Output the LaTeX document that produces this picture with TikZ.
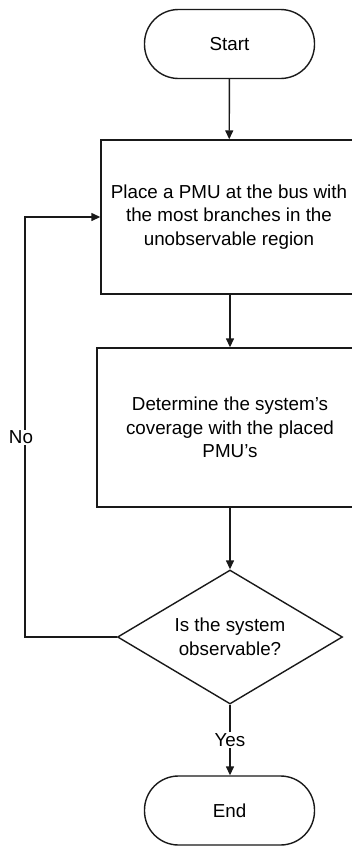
\documentclass[tikz,border=0pt]{standalone}
\usepackage{fontspec}
\setmainfont{Liberation Sans}
\usetikzlibrary{shapes.geometric,arrows.meta}
\begin{document}
\begin{tikzpicture}[x=1pt,y=-1pt,
  font=\fontsize{18.8}{23.5}\selectfont,
  line/.style={draw=black!90, line width=1.4pt},
  flow/.style={line, -{Triangle[length=9pt,width=8pt]}},
  terminal/.style={line, rectangle, rounded corners=34pt, minimum width=170pt, minimum height=69pt, align=center},
  process/.style={line, rectangle, align=center, inner sep=0pt},
  decision/.style={line, diamond, aspect=1.68, inner sep=0pt, minimum width=225pt, minimum height=134pt, align=center},
  lbl/.style={fill=white, inner sep=1pt}]
\useasboundingbox (0,0) rectangle (352,847);
\clip (0,0) rectangle (352,847);
\node[terminal] (start) at (229.5,44) {Start};
\node[process, minimum width=256pt, minimum height=154pt] (place) at (229,217)
  {Place a PMU at the bus with\\the most branches in the\\unobservable region};
\node[process, minimum width=266pt, minimum height=159pt] (cover) at (230,427.5)
  {Determine the system's\\coverage with the placed\\PMU's};
\node[decision] (obs) at (230,637) {Is the system\\observable?};
\node[terminal] (end) at (229.5,810.5) {End};
\coordinate (lb) at (25,637);
\coordinate (lt) at (25,217);
\draw[flow] (start) -- (place);
\draw[flow] (place.south -| cover.north) -- (cover.north);
\draw[flow] (cover) -- (obs);
\draw[flow] (obs.south) -- node[lbl] {Yes} (end.north -| obs.south);
\draw[flow] (obs.west) -- (lb) -- node[lbl, pos=0.476, xshift=-4pt] {No} (lt) -- (place.west);
\end{tikzpicture}
\end{document}
